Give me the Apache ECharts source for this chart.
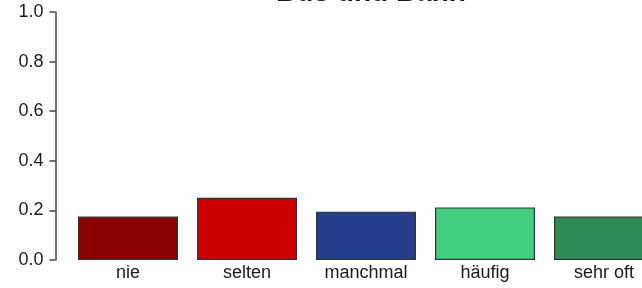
<!DOCTYPE html>
<html>
<head>
<meta charset="utf-8">
<script src="https://cdn.jsdelivr.net/npm/echarts@6/dist/echarts.min.js"></script>
<style>
  html, body { margin: 0; padding: 0; background: #fff; }
  #chart { width: 642px; height: 288px; }
</style>
</head>
<body>
<div id="chart"></div>
<script>
const categories = ['nie', 'selten', 'manchmal', 'häufig', 'sehr oft'];
const values = [0.175, 0.251, 0.195, 0.212, 0.175];
const colors = ['#8b0000', '#cd0000', '#243e8a', '#43cd80', '#2e8b57'];
const yTicks = [0, 0.2, 0.4, 0.6, 0.8, 1.0];

const chart = echarts.init(document.getElementById('chart'));

chart.setOption({
  animation: false,
  title: {
    text: 'Bus und Bahn',
    left: 366,
    top: -26,
    textAlign: 'center',
    textStyle: { fontFamily: 'Liberation Sans', fontSize: 28, fontWeight: 'bold', color: '#1a1a1a' }
  },
  grid: { left: 68.5, width: 595, top: 12, bottom: 28, outerBoundsMode: 'none' },
  xAxis: {
    type: 'category',
    data: categories,
    axisLine: { show: false },
    axisTick: { show: false },
    axisLabel: { fontFamily: 'Liberation Sans', fontSize: 18, color: '#1a1a1a', margin: 4 }
  },
  yAxis: {
    type: 'value',
    min: yTicks[0],
    max: yTicks[yTicks.length - 1],
    interval: 0.2,
    offset: 13,
    splitLine: { show: false },
    axisLine: { show: true, lineStyle: { color: '#444', width: 1.5 } },
    axisTick: { show: true, length: 6, lineStyle: { color: '#444', width: 1.5 } },
    axisLabel: {
      fontFamily: 'Liberation Sans', fontSize: 18, color: '#1a1a1a', margin: 12,
      formatter: v => v.toFixed(1)
    }
  },
  series: [{
    type: 'bar',
    barWidth: 100,
    data: values.map((v, i) => ({
      value: v,
      itemStyle: { color: colors[i], borderColor: '#333', borderWidth: 1.2 }
    }))
  }]
});
</script>
</body>
</html>
